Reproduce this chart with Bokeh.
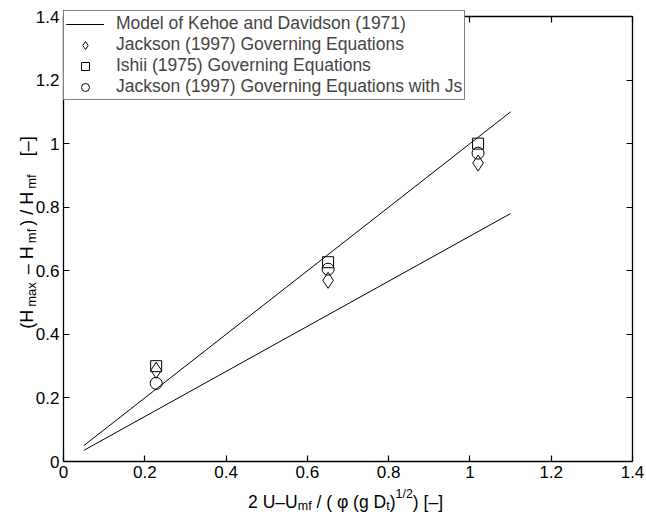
import math
from bokeh.plotting import figure
from bokeh.models import Range1d, FixedTicker, LinearAxis, Legend, LegendItem, Label
from bokeh.embed import file_html
from bokeh.resources import INLINE

# ---------------- data ----------------
x_ticks = [0, 0.2, 0.4, 0.6, 0.8, 1.0, 1.2, 1.4]
x_tick_labels = ["0", "0.2", "0.4", "0.6", "0.8", "1", "1.2", "1.4"]
y_ticks = [0, 0.2, 0.4, 0.6, 0.8, 1.0, 1.2, 1.4]
y_tick_labels = ["0", "0.2", "0.4", "0.6", "0.8", "1", "1.2", "1.4"]

model_x = [0.05, 1.10]
model_upper = [0.05, 1.10]
model_lower = [0.035, 0.78]

exp_x = [0.228, 0.651, 1.02]
jackson = [0.287, 0.570, 0.939]
ishii = [0.300, 0.627, 1.000]
jackson_js = [0.246, 0.605, 0.970]

legend_labels = [
    "Model of Kehoe and Davidson (1971)",
    "Jackson (1997) Governing Equations",
    "Ishii (1975) Governing Equations",
    "Jackson (1997) Governing Equations with Js",
]

xlabel_parts = [("2 U–U", "main"), ("mf", "sub"), (" / ( φ (g D", "main"), ("t", "sub"),
                (")", "main"), ("1/2", "sup"), (")  [–]", "main")]
ylabel_parts = [("(H", "main"), ("max", "sub"), (" – H", "main"), ("mf", "sub"),
                (") / H", "main"), ("mf", "sub"), ("   [–]", "main")]

# ---------------- layout ----------------
FONT = "Liberation Sans"
WIDTH, HEIGHT = 646, 512
FL, FT, FR, FB = 63, 16, 632, 461      # axes box on the canvas (px)
X0, X1 = 0.0, 1.4
Y0, Y1 = 0.0, 1.4
sx = (FR - FL) / (X1 - X0)
sy = (FB - FT) / (Y1 - Y0)

# the plotting frame covers the whole canvas; axes are drawn at fixed locations
p = figure(width=WIDTH, height=HEIGHT,
           x_range=Range1d(X0 - FL / sx, X0 + (WIDTH - FL) / sx),
           y_range=Range1d(Y0 - (HEIGHT - FB) / sy, Y0 + FB / sy),
           output_backend="svg", toolbar_location=None,
           min_border=0, min_border_left=0, min_border_right=0,
           min_border_top=0, min_border_bottom=0)
p.xgrid.visible = False
p.ygrid.visible = False
p.outline_line_color = None
p.background_fill_color = "white"
p.border_fill_color = "white"


def style_axis(ax, ticks, labels, loc, bounds, show_labels=True):
    ax.ticker = FixedTicker(ticks=ticks)
    ax.fixed_location = loc
    ax.bounds = bounds
    ax.major_tick_in = 6
    ax.major_tick_out = 0
    ax.minor_tick_in = 0
    ax.minor_tick_out = 0
    ax.axis_line_color = "black"
    ax.axis_line_width = 1.3
    ax.major_tick_line_color = "black"
    ax.major_tick_line_width = 1.2
    ax.axis_label = None
    ax.major_label_text_font = FONT
    ax.major_label_text_font_size = "17px"
    ax.major_label_text_color = "black" if show_labels else None
    ax.major_label_standoff = 4
    ax.major_label_overrides = {t: l for t, l in zip(ticks, labels)}


style_axis(p.xaxis[0], x_ticks, x_tick_labels, Y0, (X0, X1))
style_axis(p.yaxis[0], y_ticks, y_tick_labels, X0, (Y0, Y1))
top_ax = LinearAxis()
right_ax = LinearAxis()
style_axis(top_ax, x_ticks, x_tick_labels, Y1, (X0, X1), show_labels=False)
style_axis(right_ax, y_ticks, y_tick_labels, X1, (Y0, Y1), show_labels=False)
p.add_layout(top_ax, "above")
p.add_layout(right_ax, "right")

# ---------------- glyphs ----------------
l1 = p.line(model_x, model_upper, line_color="black", line_width=1)
l2 = p.line(model_x, model_lower, line_color="black", line_width=1)
r_d = p.scatter(exp_x, jackson, marker="diamond", size=16, fill_color=None,
                line_color="black", line_width=1)
r_s = p.scatter(exp_x, ishii, marker="square", size=11, fill_color=None,
                line_color="black", line_width=1)
r_c = p.scatter(exp_x, jackson_js, marker="circle", size=12, fill_color=None,
                line_color="black", line_width=1)

ROW, PAD = 20, 2
legend_h = PAD * 2 + ROW * len(legend_labels)
legend = Legend(items=[
    LegendItem(label=legend_labels[0], renderers=[l1, l2]),
    LegendItem(label=legend_labels[1], renderers=[r_d]),
    LegendItem(label=legend_labels[2], renderers=[r_s]),
    LegendItem(label=legend_labels[3], renderers=[r_c]),
], location=(FL, HEIGHT - FT - legend_h))
legend.margin = 0
legend.padding = PAD
legend.spacing = 0
legend.glyph_width = 38
legend.glyph_height = ROW
legend.label_height = ROW
legend.label_standoff = 12
legend.label_text_font = FONT
legend.label_text_font_size = "17.5px"
legend.label_text_line_height = 1.1
legend.border_line_color = "black"
legend.border_line_width = 1.3
legend.background_fill_color = "white"
legend.background_fill_alpha = 1.0
p.add_layout(legend, "center")

# ---------------- axis labels (composed with sub/superscripts) ----------------
W = {' ': .278, '2': .556, '1': .556, 'U': .722, '–': .556, 'm': .833, 'f': .278,
     '/': .278, '(': .333, ')': .333, 'φ': .65, 'g': .556, 'D': .722, 't': .278,
     '[': .278, ']': .278, 'H': .722, 'a': .556, 'x': .5}


def tw(s, size):
    return sum(W.get(c, .556) for c in s) * size


def lead_w(s, size):
    return (len(s) - len(s.lstrip(" "))) * W[' '] * size


# x label: horizontal, centred under the axes box
XM, XS = 17.5, 12.5
x_sizes = {"main": XM, "sub": XS, "sup": XS}
x_total = sum(tw(s, x_sizes[k]) for s, k in xlabel_parts)
cx = (FL + FR) / 2 - x_total / 2
base_y = 501
for s, k in xlabel_parts:
    size = x_sizes[k]
    dy = {"main": 0, "sub": 4, "sup": -8}[k]
    p.add_layout(Label(x=cx + lead_w(s, size), y=HEIGHT - (base_y + dy),
                       x_units="screen", y_units="screen",
                       text=s.strip(" "), text_font=FONT, text_font_size=f"{size}px",
                       text_color="black", text_align="left", text_baseline="alphabetic"))
    cx += tw(s, size)

# y label: rotated, reading bottom to top
YM, YS, GAP = 18, 13, 3
y_sizes = {"main": YM, "sub": YS, "sup": YS}
y_total = sum(tw(s, y_sizes[k]) for s, k in ylabel_parts) + GAP * (len(ylabel_parts) - 1)
cy = 232 + y_total / 2
base_x = 26
for s, k in ylabel_parts:
    size = y_sizes[k]
    dx = {"main": 0, "sub": 5, "sup": -8}[k]
    p.add_layout(Label(x=base_x + dx, y=HEIGHT - (cy - lead_w(s, size)),
                       x_units="screen", y_units="screen",
                       text=s.strip(" "), text_font=FONT, text_font_size=f"{size}px",
                       text_color="black", text_align="left", text_baseline="alphabetic",
                       angle=math.pi / 2))
    cy -= tw(s, size) + GAP

open("out.html", "w").write(file_html(p, INLINE))
